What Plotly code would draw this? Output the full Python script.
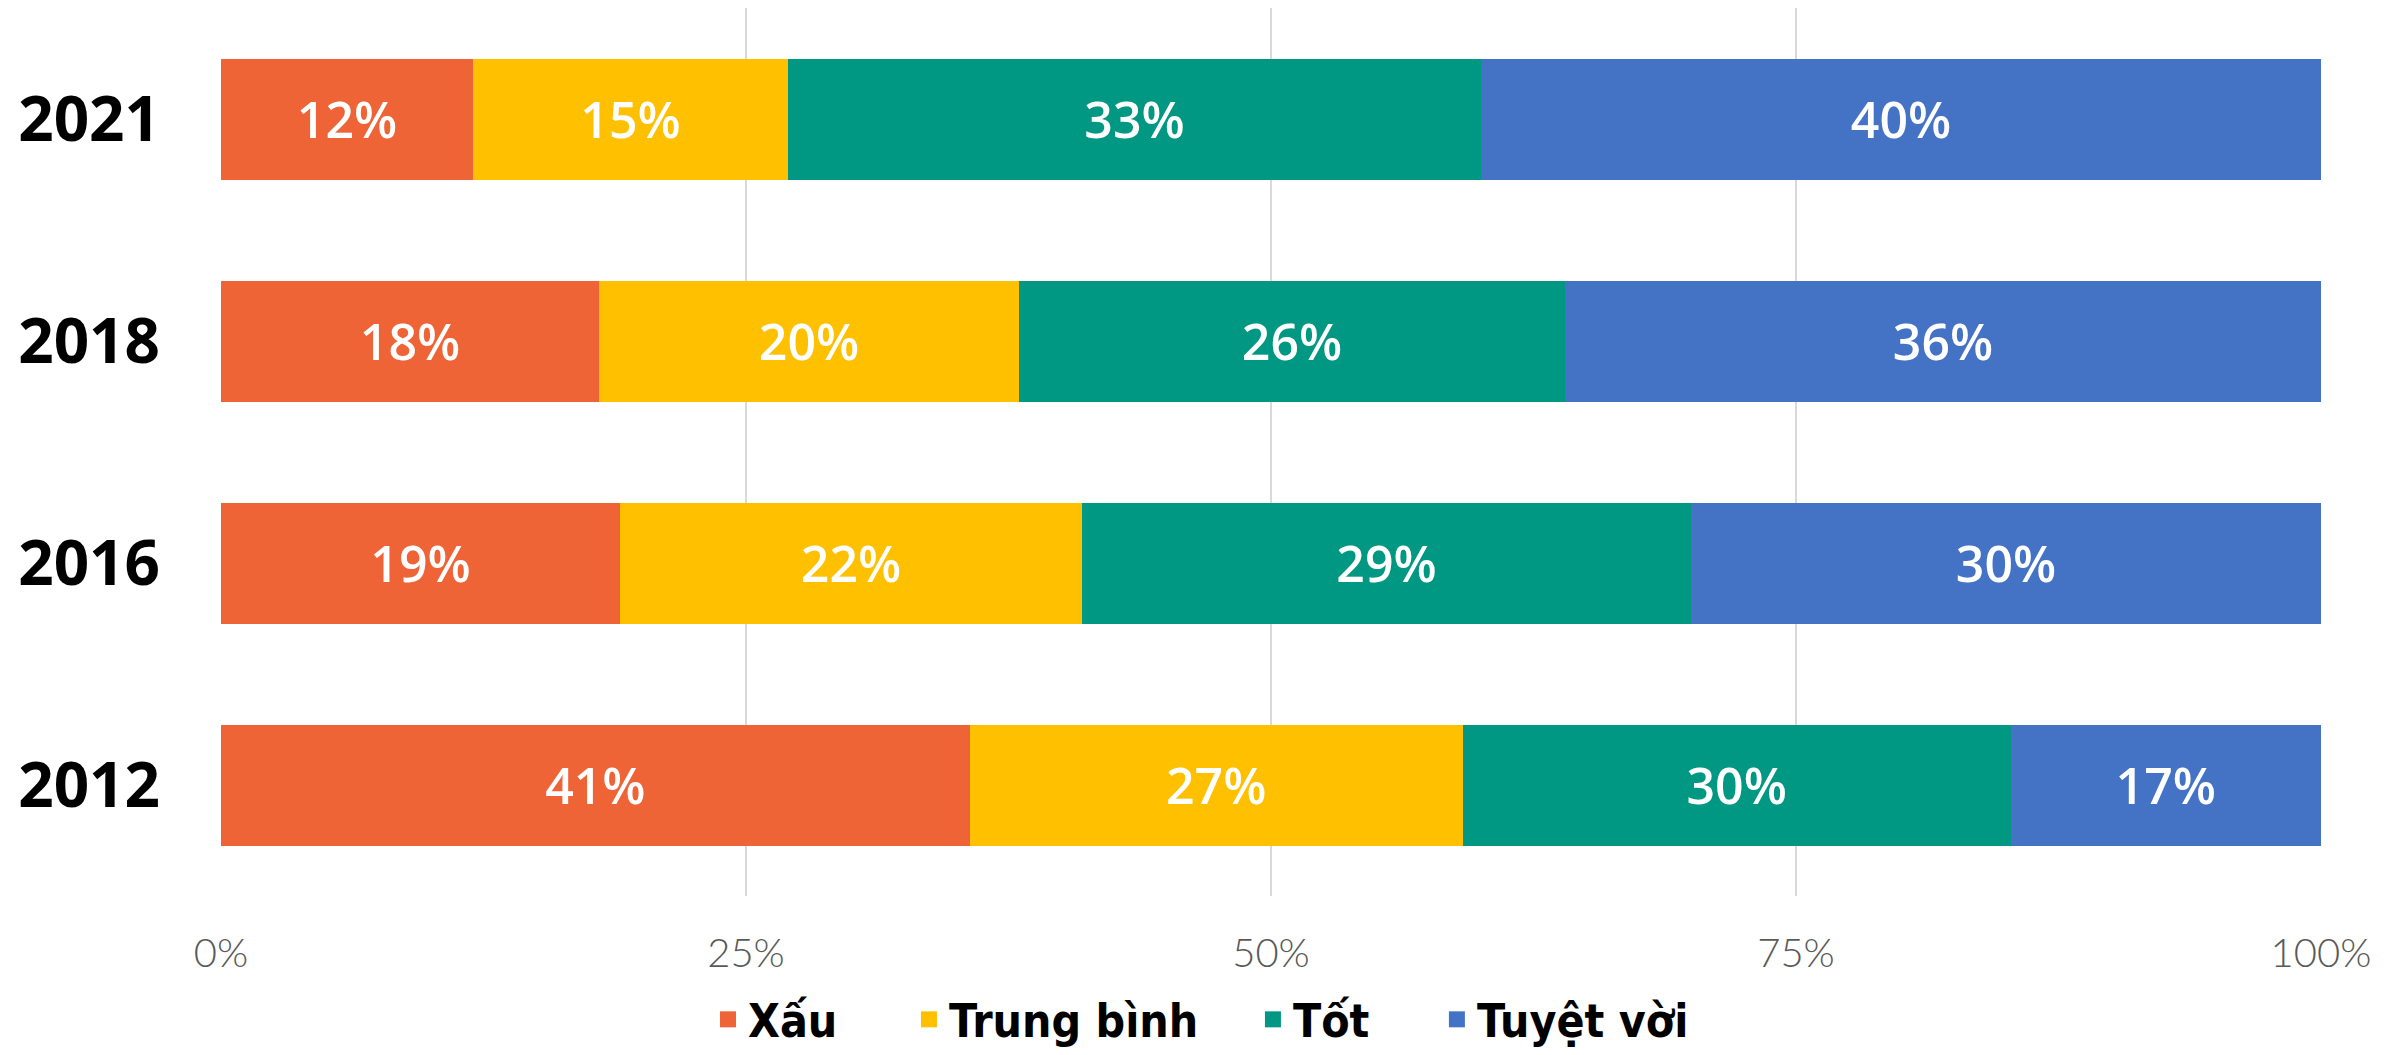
import plotly.graph_objects as go

years = ["2012", "2016", "2018", "2021"]
series_names = ["Xấu", "Trung bình", "Tốt", "Tuyệt vời"]
xau = [41, 19, 18, 12]
trung_binh = [27, 22, 20, 15]
tot = [30, 29, 26, 33]
tuyet_voi = [17, 30, 36, 40]
tick_values = [0, 25, 50, 75, 100]
tick_labels = ["0%", "25%", "50%", "75%", "100%"]

colors = ["#EE6436", "#FFC000", "#009882", "#4473C5"]
legend_ids = ["legend", "legend2", "legend3", "legend4"]
legend_x = [0.2319, 0.3276, 0.4914, 0.579]

fig = go.Figure()
for name, values, color in zip(series_names, [xau, trung_binh, tot, tuyet_voi], colors):
    fig.add_trace(
        go.Bar(
            y=years,
            x=values,
            name=name,
            orientation="h",
            marker=dict(color=color, line=dict(width=0)),
            text=values,
            texttemplate="%{text}%",
            textposition="inside",
            insidetextanchor="middle",
            constraintext="none",
            textfont=dict(family="Open Sans", size=50, color="white", weight=600),
            showlegend=False,
        )
    )

# legend-only entries, one small legend each so the spacing matches
for name, color, legend_id in zip(series_names, colors, legend_ids):
    fig.add_trace(
        go.Scatter(
            x=[None],
            y=[None],
            mode="markers",
            name=name,
            legend=legend_id,
            marker=dict(symbol="square", size=16, color=color),
        )
    )

legend_style = dict(
    orientation="h",
    xanchor="left",
    y=-0.139,
    yanchor="middle",
    font=dict(family="DejaVu Sans Condensed", size=46, color="black", weight=700),
    itemwidth=30,
    bgcolor="rgba(0,0,0,0)",
)

# the page body has an 8px margin, so the figure is a bit smaller than the window
fig.update_layout(
    barmode="stack",
    barnorm="percent",
    bargap=0.455,
    width=2394,
    height=1047,
    plot_bgcolor="white",
    paper_bgcolor="white",
    margin=dict(l=213, r=81, t=0, b=159, autoexpand=False),
    showlegend=True,
    **{lid: dict(legend_style, x=lx) for lid, lx in zip(legend_ids, legend_x)},
)
fig.update_xaxes(
    range=[0, 100],
    tickvals=tick_values,
    ticktext=tick_labels,
    showgrid=True,
    gridcolor="#D9D9D9",
    gridwidth=2,
    zeroline=False,
    showline=False,
    automargin=False,
    tickfont=dict(family="Lato", size=40, color="#595959", weight=300),
    ticklabelstandoff=30,
)
fig.update_yaxes(
    type="category",
    categoryorder="array",
    categoryarray=years,
    showgrid=False,
    zeroline=False,
    showline=False,
    automargin=False,
    tickfont=dict(family="Open Sans", size=62, color="black", weight=700),
    ticklabelstandoff=60,
)

fig.write_html("out.html")
